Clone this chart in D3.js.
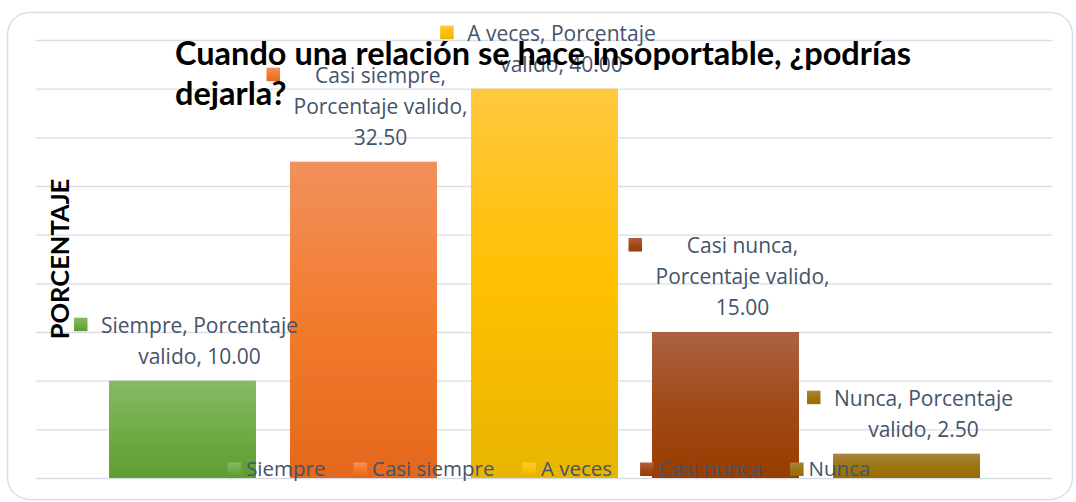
<!DOCTYPE html>
<html>
<head>
  <meta charset="utf-8">
  <title>Porcentaje valido</title>
  <script src="https://d3js.org/d3.v7.min.js"></script>
  <style>
    body { margin: 0; background: #fff; }
  </style>
</head>
<body>
  <div id="chart"></div>

  <script>
    // datos del grafico
    const categories = ["Siempre", "Casi siempre", "A veces", "Casi nunca", "Nunca"];
    const values = [10, 32.5, 40, 15, 2.5];
    const seriesName = "Porcentaje valido";
    const yTicks = [0, 5, 10, 15, 20, 25, 30, 35, 40, 45];
    const titleLines = ["Cuando una relación se hace insoportable, ¿podrías", "dejarla?"];
    const axisTitle = "PORCENTAJE";

    // colores de degradado (arriba, medio, abajo)
    const topColors = ["#86bb66", "#f1915c", "#ffc840", "#ab6243", "#a8853f"];
    const midColors = ["#70ad47", "#f37b2e", "#ffc000", "#a14b16", "#9e7510"];
    const bottomColors = ["#5e9e30", "#e3681c", "#e8b500", "#983c00", "#996c00"];

    const width = 1076, height = 502;
    const textColor = "#44546a";
    const labelFont = "'Open Sans', sans-serif";

    const svg = d3.select("#chart")
      .append("svg")
      .attr("width", width)
      .attr("height", height);

    // marco redondeado
    svg.append("rect")
      .attr("x", 7.5).attr("y", 12.5)
      .attr("width", 1065).attr("height", 487)
      .attr("rx", 22)
      .attr("fill", "#fff")
      .attr("stroke", "#dadfe6")
      .attr("stroke-width", 1.5);

    const y = d3.scaleLinear().domain([0, 45]).range([478, 40]);
    const x = d3.scaleBand()
      .domain(categories)
      .range([92, 997])
      .paddingInner(0.188)
      .paddingOuter(0.094);

    // lineas de cuadricula
    const grid = svg.append("g")
      .attr("transform", "translate(36,0)")
      .call(d3.axisLeft(y).tickValues(yTicks).tickSize(-(1052 - 36)).tickFormat(""));
    grid.select(".domain").remove();
    grid.selectAll(".tick line").attr("stroke", "#d9dee6").attr("stroke-width", 1.4);

    // degradados
    const defs = svg.append("defs");
    categories.forEach((c, i) => {
      const g = defs.append("linearGradient")
        .attr("id", "grad" + i)
        .attr("x1", 0).attr("y1", 0).attr("x2", 0).attr("y2", 1);
      g.append("stop").attr("offset", "0%").attr("stop-color", topColors[i]);
      g.append("stop").attr("offset", "50%").attr("stop-color", midColors[i]);
      g.append("stop").attr("offset", "100%").attr("stop-color", bottomColors[i]);
    });

    // barras
    svg.append("g")
      .selectAll("rect")
      .data(categories)
      .join("rect")
      .attr("x", d => x(d))
      .attr("y", (d, i) => y(values[i]))
      .attr("width", x.bandwidth())
      .attr("height", (d, i) => y(0) - y(values[i]))
      .attr("fill", (d, i) => "url(#grad" + i + ")");

    // medir texto
    const measure = svg.append("text")
      .style("font-family", labelFont)
      .style("font-size", "21px")
      .attr("opacity", 0);
    function textWidth(s) {
      measure.text(s);
      return measure.node().getComputedTextLength();
    }

    function wrap(str, maxW) {
      const words = str.split(" ");
      const lines = [];
      let line = words[0];
      for (let k = 1; k < words.length; k++) {
        const test = line + " " + words[k];
        if (textWidth(test) > maxW) {
          lines.push(line);
          line = words[k];
        } else {
          line = test;
        }
      }
      lines.push(line);
      return lines;
    }

    // etiquetas de datos
    const lineH = 31;
    categories.forEach((c, i) => {
      const lines = wrap(c + ", " + seriesName + ", " + values[i].toFixed(2), 210);
      const w = d3.max(lines, l => textWidth(l));
      const cx = x(c) + x.bandwidth() / 2 + 17;
      const lastBase = y(values[i]) - 17;
      const firstBase = lastBase - (lines.length - 1) * lineH;
      const g = svg.append("g");
      g.append("rect")
        .attr("x", cx - w / 2 - 27)
        .attr("y", firstBase - 15)
        .attr("width", 13.5).attr("height", 13.5)
        .attr("fill", "url(#grad" + i + ")");
      g.selectAll("text")
        .data(lines)
        .join("text")
        .attr("x", cx)
        .attr("y", (l, k) => firstBase + k * lineH)
        .attr("text-anchor", "middle")
        .style("font-family", labelFont)
        .style("font-size", "21px")
        .attr("fill", textColor)
        .text(l => l);
    });

    // leyenda
    const legendW = categories.map(c => textWidth(c) * 20.5 / 21);
    const sq = 13.5, gap1 = 5, gap2 = 28;
    const total = d3.sum(legendW) + categories.length * (sq + gap1) + (categories.length - 1) * gap2;
    let lx = 549 - total / 2;
    const legend = svg.append("g");
    categories.forEach((c, i) => {
      legend.append("rect")
        .attr("x", lx).attr("y", 462.5)
        .attr("width", sq).attr("height", sq)
        .attr("fill", "url(#grad" + i + ")");
      legend.append("text")
        .attr("x", lx + sq + gap1)
        .attr("y", 475.5)
        .style("font-family", labelFont)
        .style("font-size", "20.5px")
        .attr("fill", textColor)
        .text(c);
      lx += sq + gap1 + legendW[i] + gap2;
    });

    // titulo del eje
    svg.append("text")
      .attr("transform", "translate(69," + (y(0) + y(45)) / 2 + ") rotate(-90)")
      .attr("text-anchor", "middle")
      .style("font-family", "Lato, sans-serif")
      .style("font-weight", "bold")
      .style("font-size", "25.5px")
      .attr("fill", "#000")
      .text(axisTitle);

    // titulo
    svg.append("g")
      .selectAll("text")
      .data(titleLines)
      .join("text")
      .attr("x", 175)
      .attr("y", (d, i) => 65 + i * 40)
      .style("font-family", "Lato, sans-serif")
      .style("font-weight", "bold")
      .style("font-size", "32.5px")
      .attr("fill", "#000")
      .text(d => d);

    measure.remove();
  </script>
</body>
</html>
